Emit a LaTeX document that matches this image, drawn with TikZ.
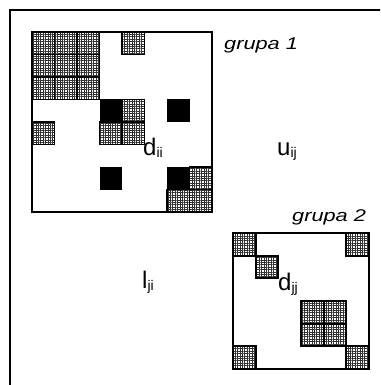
\documentclass[tikz,border=0pt]{standalone}
\usepackage{fontspec}
\setmainfont{Liberation Sans}
\usepackage{tikz}
\usetikzlibrary{patterns.meta}

\newcommand{\idx}[1]{\raisebox{-2.5pt}{\fontsize{14}{14}\selectfont #1}}

\begin{document}
\begin{tikzpicture}[
  x=1pt,y=-1pt,
  frame/.style={line width=2pt},
  grp/.style={draw,line width=1.6pt},
  hfill/.style={pattern={Hatch[distance=2.4pt,angle=0,line width=1pt]},pattern color=black!80},
  hline/.style={draw,line width=1.8pt},
  bcell/.style={fill=black},
  lbl/.style={inner sep=0pt,anchor=base west,font=\fontsize{24}{28}\selectfont},
  grptxt/.style={inner sep=0pt,anchor=base west,font=\fontsize{17}{20}\selectfont\itshape}
]
\useasboundingbox (0,0) rectangle (380,385);
\clip (0,0) rectangle (380,385);
\draw[frame] (400,10) -- (10,10) -- (10,400);

% grupa 1
\begin{scope}[shift={(32,32)}]
  \def\cells{0/0,1/0,2/0,0/1,1/1,2/1,0/2,1/2,2/2,4/0,4/3,0/4,3/4,4/4,7/6,6/7,7/7}
  \foreach \c/\r in \cells
    \path[hfill] (\c*22.5,\r*22.5) rectangle ++(22.5,22.5);
  \foreach \c/\r in \cells
    \draw[hline] (\c*22.5,\r*22.5) rectangle ++(22.5,22.5);
  \foreach \c/\r in {3/3,6/3,3/6,6/6}
    \fill[bcell] (\c*22.5,\r*22.5) rectangle ++(22.5,22.5);
  \draw[grp] (0,0) rectangle (180,180);
\end{scope}

% grupa 2
\begin{scope}[shift={(233,233)}]
  \def\cells{0/0,5/0,1/1,3/3,4/3,3/4,4/4,0/5,5/5}
  \foreach \c/\r in \cells
    \path[hfill] (\c*22.67,\r*22.67) rectangle ++(22.67,22.67);
  \foreach \c/\r in \cells
    \draw[hline] (\c*22.67,\r*22.67) rectangle ++(22.67,22.67);
  \draw[grp] (0,0) rectangle (136,136);
\end{scope}

\node[grptxt] (g1) at (224,50) {\scalebox{1.28}[1]{grupa 1}};
\node[grptxt] (g2) at (292,221) {\scalebox{1.28}[1]{grupa 2}};
\node[lbl] (dii) at (143,155) {d\idx{ii}};
\node[lbl] (uij) at (277,155) {u\idx{ij}};
\node[lbl] (lji) at (142,288) {l\idx{ji}};
\node[lbl] (djj) at (278,290) {d\idx{jj}};
\end{tikzpicture}
\end{document}
